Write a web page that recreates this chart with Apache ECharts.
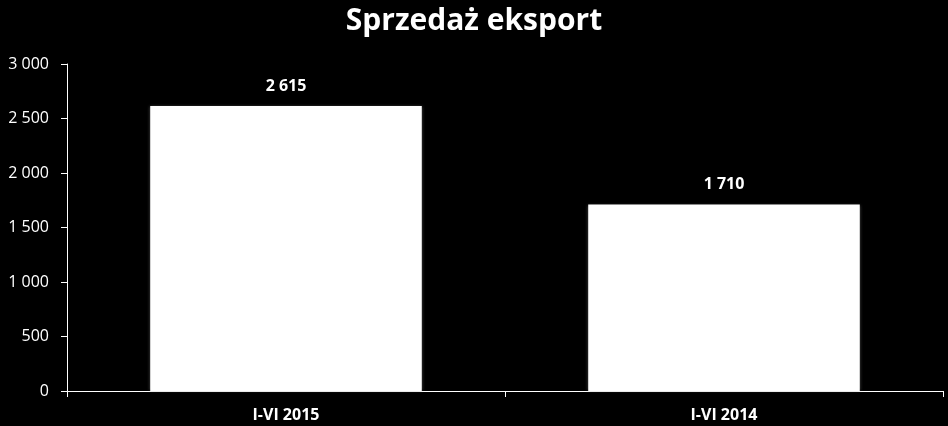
<!DOCTYPE html>
<html><head><meta charset="utf-8">
<script src="https://cdn.jsdelivr.net/npm/echarts@6/dist/echarts.min.js"></script>
<style>html,body{margin:0;padding:0;background:#000;}#c{width:948px;height:426px;}</style>
</head><body><div id="c"></div>
<script>
const categories = ['I-VI 2015', 'I-VI 2014'];
const values = [2615, 1710];
const title = 'Sprzedaż eksport';
const fmt = v => String(v).replace(/\B(?=(\d{3})+(?!\d))/g, ' ');
const chart = echarts.init(document.getElementById('c'));
chart.setOption({
  backgroundColor: '#000',
  animation: false,
  title: { text: title, left: 'center', top: 1,
    textStyle: { color: '#fff', fontFamily: 'Open Sans', fontWeight: 'bold', fontSize: 30 } },
  grid: { left: 67, right: 5, top: 64, bottom: 35 },
  xAxis: { type: 'category', data: categories,
    axisLine: { lineStyle: { color: '#fff', width: 1 } },
    axisTick: { show: true, alignWithLabel: false, length: 6, lineStyle: { color: '#fff' } },
    axisLabel: { color: '#fff', fontFamily: 'Open Sans', fontWeight: 'bold', fontSize: 16, margin: 16 } },
  yAxis: { type: 'value', min: 0, max: 3000, interval: 500,
    axisLine: { show: true, lineStyle: { color: '#fff', width: 1 } },
    axisTick: { show: true, length: 6, lineStyle: { color: '#fff' } },
    splitLine: { show: false },
    axisLabel: { color: '#fff', fontFamily: 'Open Sans', fontSize: 16, margin: 18, formatter: fmt } },
  series: [{ type: 'bar', data: values, barCategoryGap: '38%',
    itemStyle: { color: '#fff', shadowColor: 'rgba(128,128,128,0.6)', shadowBlur: 3 },
    label: { show: true, position: 'top', distance: 12, color: '#fff', fontFamily: 'Open Sans', fontWeight: 'bold', fontSize: 16, formatter: p => fmt(p.value) } }]
});
</script></body></html>
